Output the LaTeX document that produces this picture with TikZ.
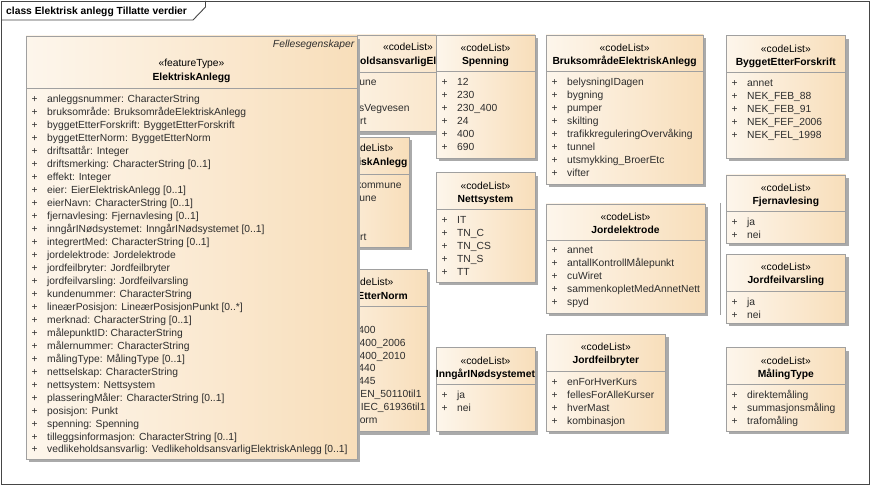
\documentclass[tikz,border=0pt]{standalone}
\usepackage{fontspec}
\setmainfont{Liberation Sans}
\usetikzlibrary{shadows}
\definecolor{boxL}{RGB}{253,246,236}
\definecolor{boxR}{RGB}{248,222,186}
\definecolor{bordc}{RGB}{160,160,160}
\definecolor{shadc}{RGB}{170,170,170}
\definecolor{txtc}{RGB}{45,45,45}
\definecolor{framec}{RGB}{70,70,70}
\tikzset{
  clshape/.style={draw=bordc, line width=0.9pt, left color=boxL, right color=boxR,
    anchor=north west, inner sep=0pt, outer sep=0pt,
    drop shadow={shadow xshift=3pt, shadow yshift=-3pt, fill=shadc, opacity=1}},
  sepline/.style={draw=bordc, line width=0.9pt},
  stereo/.style={anchor=base, inner sep=0pt, text=black},
  clname/.style={anchor=base, inner sep=0pt, text=black, font=\bfseries},
  plus/.style={anchor=base west, inner sep=0pt, text=txtc},
  item/.style={anchor=base west, inner sep=0pt, text=txtc},
  itemr/.style={anchor=base east, inner sep=0pt, text=txtc},
}
\newcommand\clbox[6]{%
  \node[clshape, minimum width={#4-#2}, minimum height={#5-#3}] (#1) at (#2,#3) {};
  \draw[sepline] (#2,{#3+36.8}) -- (#4,{#3+36.8});
  \node[stereo] (#1-st) at ({(#2+#4)/2},{#3+16.5}) {«codeList»};
  \node[clname] (#1-nm) at ({(#2+#4)/2},{#3+29.5}) {#6};
}
\newcommand\clitems[4]{%
  \foreach \t [count=\i from 0] in {#4} {
    \node[plus] (#1-p\i) at ({#2+5.5},{#3+50.8+12.97*\i}) {+};
    \node[item] (#1-i\i) at ({#2+21},{#3+50.8+12.97*\i}) {\t};
  }
}
\begin{document}
\begin{tikzpicture}[x=1pt,y=-1pt]
\fontsize{10.3}{12}\selectfont
\useasboundingbox (0,0) rectangle (871,486);
\fill[white] (0,0) rectangle (871,486);
% frame
\draw[framec, line width=0.9pt] (1,1) rectangle (869.5,484.5);
\draw[framec, line width=0.9pt] (1,20) -- (193,20) -- (205.5,7) -- (205.5,1);
\node[anchor=base west, inner sep=0pt, font=\bfseries] (title) at (6,14.7) {class Elektrisk anlegg Tillatte verdier};

% partially hidden boxes (behind the feature type)
\node[clshape, minimum width=196, minimum height=96.7] (ved) at (310,35) {};
\draw[sepline] (310,72) -- (506,72);
\node[stereo] (ved-st) at (408,51) {«codeList»};
\node[clname, anchor=base east] (ved-nm) at (436.5,64.5) {VedlikeholdsansvarligEl};
\node[itemr] (ved-i0) at (376.7,85.8) {kommune};
\node[itemr] (ved-i2) at (409.8,111.8) {statensVegvesen};
\node[itemr] (ved-i3) at (366.7,124.8) {art};

\node[clshape, minimum width=109, minimum height=109.7] (eier) at (300,137.3) {};
\draw[sepline] (300,174) -- (409,174);
\node[stereo] (eier-st) at (368.5,152) {«codeList»};
\node[clname, anchor=base east] (eier-nm) at (407.7,165.5) {EierElektriskAnlegg};
\node[itemr] (eier-i0) at (401.7,188.3) {fylkeskommune};
\node[itemr] (eier-i1) at (376.7,201.3) {kommune};
\node[itemr] (eier-i4) at (366.7,240.2) {art};

\node[clshape, minimum width=127.3, minimum height=162.4] (norm) at (300,269.3) {};
\draw[sepline] (300,306) -- (427.3,306);
\node[stereo] (norm-st) at (368.5,286) {«codeList»};
\node[clname, anchor=base east] (norm-nm) at (408,299.5) {ByggetEtterNorm};
\node[itemr] (norm-i1) at (375.7,333.1) {400};
\node[itemr] (norm-i2) at (405.7,346.1) {400\_2006};
\node[itemr] (norm-i3) at (405.7,359.1) {400\_2010};
\node[itemr] (norm-i4) at (375.7,372.0) {440};
\node[itemr] (norm-i5) at (375.7,385.0) {445};
\node[itemr] (norm-i6) at (421.7,398.0) {EN\_50110til1};
\node[itemr] (norm-i7) at (425.7,411.0) {IEC\_61936til1};
\node[itemr] (norm-i8) at (377.7,424.0) {orm};

% feature type
\node[clshape, minimum width=331, minimum height=423] (ea) at (26,36) {};
\draw[sepline] (26,88) -- (357,88);
\node[anchor=base east, inner sep=0pt, font=\itshape, text=txtc] (ea-fe) at (354.5,48) {Fellesegenskaper};
\node[stereo] (ea-st) at (191.5,67) {«featureType»};
\node[clname] (ea-nm) at (191.5,80.5) {ElektriskAnlegg};
\foreach \t [count=\i from 0] in {%
  {anleggsnummer: CharacterString},
  {bruksområde: BruksområdeElektriskAnlegg},
  {byggetEtterForskrift: ByggetEtterForskrift},
  {byggetEtterNorm: ByggetEtterNorm},
  {driftsattår: Integer},
  {driftsmerking: CharacterString [0..1]},
  {effekt: Integer},
  {eier: EierElektriskAnlegg [0..1]},
  {eierNavn: CharacterString [0..1]},
  {fjernavlesing: Fjernavlesing [0..1]},
  {inngårINødsystemet: InngårINødsystemet [0..1]},
  {integrertMed: CharacterString [0..1]},
  {jordelektrode: Jordelektrode},
  {jordfeilbryter: Jordfeilbryter},
  {jordfeilvarsling: Jordfeilvarsling},
  {kundenummer: CharacterString},
  {lineærPosisjon: LineærPosisjonPunkt [0..*]},
  {merknad: CharacterString [0..1]},
  {målepunktID: CharacterString},
  {målernummer: CharacterString},
  {målingType: MålingType [0..1]},
  {nettselskap: CharacterString},
  {nettsystem: Nettsystem},
  {plasseringMåler: CharacterString [0..1]},
  {posisjon: Punkt},
  {spenning: Spenning},
  {tilleggsinformasjon: CharacterString [0..1]},
  {vedlikeholdsansvarlig: VedlikeholdsansvarligElektriskAnlegg [0..1]}} {
  \node[plus] (ea-p\i) at (31.5,{102.8+12.97*\i}) {+};
  \node[item] (ea-a\i) at (47,{102.8+12.97*\i}) {\t};
}

% code lists
\clbox{spen}{436}{35}{535}{158}{Spenning}
\clitems{spen}{436}{35}{12,230,230\_400,24,400,690}
\clbox{nett}{436}{172.7}{535}{282}{Nettsystem}
\clitems{nett}{436}{172.7}{IT,TN\_C,TN\_CS,TN\_S,TT}
\clbox{inng}{436}{347.7}{535}{431.7}{InngårINødsystemet}
\clitems{inng}{436}{347.7}{ja,nei}
\clbox{bruk}{546}{35}{703.3}{184}{BruksområdeElektriskAnlegg}
\clitems{bruk}{546}{35}{belysningIDagen,bygning,pumper,skilting,trafikkreguleringOvervåking,tunnel,utsmykking\_BroerEtc,vifter}
\clbox{jel}{546}{204}{705}{313.3}{Jordelektrode}
\clitems{jel}{546}{203}{annet,antallKontrollMålepunkt,cuWiret,sammenkopletMedAnnetNett,spyd}
\clbox{jfb}{546}{334.3}{665.7}{431}{Jordfeilbryter}
\clitems{jfb}{546}{334.3}{enForHverKurs,fellesForAlleKurser,hverMast,kombinasjon}
\clbox{bef}{726}{35.7}{845.7}{158.3}{ByggetEtterForskrift}
\clitems{bef}{726}{35.7}{annet,NEK\_FEB\_88,NEK\_FEB\_91,NEK\_FEF\_2006,NEK\_FEL\_1998}
\clbox{fja}{726}{175}{845.7}{243.3}{Fjernavlesing}
\clitems{fja}{726}{175}{ja,nei}
\clbox{jfv}{726}{254.3}{845.7}{323.3}{Jordfeilvarsling}
\clitems{jfv}{726}{254.3}{ja,nei}
\clbox{mt}{726}{347.7}{845.7}{431}{MålingType}
\clitems{mt}{726}{347.7}{direktemåling,summasjonsmåling,trafomåling}
% thin vertical mark right of Jordelektrode
\coordinate (mk-a) at (720.5,203);
\coordinate (mk-b) at (720.5,315);
\draw[bordc, line width=0.9pt] (mk-a) -- (mk-b);
\end{tikzpicture}
\end{document}
